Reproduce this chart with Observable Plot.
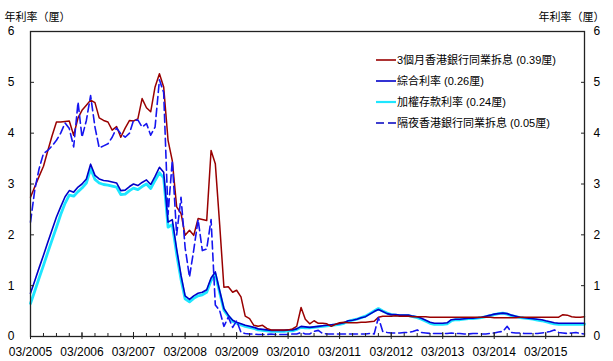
<!DOCTYPE html>
<html><head><meta charset="utf-8">
<script src="https://cdn.jsdelivr.net/npm/d3@7"></script>
<script src="https://cdn.jsdelivr.net/npm/@observablehq/plot@0.6"></script>
<style>
body{margin:0;background:#fff}
#chart{position:relative;width:613px;height:361px}
</style>
</head><body><div id="chart"></div>
<script>
// Monthly observations, 03/2005 .. 12/2015
const startMonth = new Date(Date.UTC(2005, 2, 1));
const endMonth = new Date(Date.UTC(2016, 0, 1));
const months = d3.utcMonth.range(startMonth, endMonth);

const seriesNames = [
  "3個月香港銀行同業拆息 (0.39厘)",
  "綜合利率 (0.26厘)",
  "加權存款利率 (0.24厘)",
  "隔夜香港銀行同業拆息 (0.05厘)"
];

const hibor3m = [
  2.74, 2.95, 3.15, 3.35, 3.65, 3.95, 4.22, 4.22, 4.23, 4.24,
  3.96, 4.30, 4.45, 4.55, 4.65, 4.60, 4.30, 4.25, 4.22, 4.06,
  4.13, 3.92, 4.10, 4.25, 4.24, 4.28, 4.68, 4.50, 4.42, 4.91,
  5.17, 4.91, 3.86, 3.46, 2.55, 2.42, 1.99, 2.09, 1.99, 2.32,
  2.30, 2.28, 3.66, 3.40, 2.20, 0.97, 0.98, 0.87, 0.91, 0.78,
  0.40, 0.35, 0.22, 0.20, 0.22, 0.16, 0.13, 0.13, 0.13, 0.13,
  0.13, 0.15, 0.20, 0.57, 0.34, 0.25, 0.31, 0.26, 0.26, 0.25,
  0.20, 0.24, 0.27, 0.28, 0.27, 0.27, 0.27, 0.28, 0.28, 0.29,
  0.30, 0.38, 0.40, 0.40, 0.40, 0.41, 0.40, 0.40, 0.40, 0.39,
  0.39, 0.39, 0.39, 0.38, 0.38, 0.38, 0.38, 0.38, 0.38, 0.38,
  0.38, 0.38, 0.38, 0.38, 0.38, 0.38, 0.38, 0.38, 0.37, 0.37,
  0.37, 0.37, 0.37, 0.37, 0.38, 0.38, 0.38, 0.38, 0.38, 0.38,
  0.38, 0.38, 0.38, 0.38, 0.43, 0.42, 0.39, 0.38, 0.38, 0.39
];

const composite = [
  0.85, 1.10, 1.35, 1.60, 1.85, 2.10, 2.35, 2.55, 2.75, 2.87,
  2.84, 2.94, 3.00, 3.10, 3.39, 3.17, 3.10, 3.07, 3.06, 3.04,
  3.02, 2.87, 2.88, 2.95, 3.00, 2.97, 3.03, 3.08, 2.99, 3.15,
  3.33, 3.23, 2.25, 2.30, 1.72, 1.20, 0.80, 0.73, 0.80, 0.85,
  0.87, 0.92, 1.15, 1.27, 0.90, 0.55, 0.42, 0.32, 0.28, 0.25,
  0.22, 0.20, 0.18, 0.15, 0.14, 0.13, 0.12, 0.12, 0.12, 0.12,
  0.13, 0.13, 0.15, 0.20, 0.19, 0.18, 0.19, 0.20, 0.21, 0.22,
  0.23, 0.24, 0.25, 0.27, 0.31, 0.32, 0.34, 0.37, 0.39, 0.44,
  0.49, 0.53, 0.49, 0.45, 0.43, 0.43, 0.42, 0.42, 0.42, 0.40,
  0.39, 0.36, 0.32, 0.28, 0.26, 0.26, 0.26, 0.27, 0.33, 0.34,
  0.34, 0.35, 0.36, 0.36, 0.37, 0.38, 0.40, 0.42, 0.44, 0.45,
  0.46, 0.45, 0.42, 0.40, 0.38, 0.37, 0.36, 0.35, 0.34, 0.33,
  0.31, 0.29, 0.27, 0.26, 0.26, 0.26, 0.26, 0.26, 0.26, 0.26
];

const deposit = [
  0.65, 0.90, 1.15, 1.40, 1.65, 1.90, 2.15, 2.40, 2.62, 2.78,
  2.76, 2.85, 2.92, 3.02, 3.30, 3.09, 3.02, 2.99, 2.98, 2.96,
  2.94, 2.79, 2.80, 2.87, 2.92, 2.89, 2.95, 3.00, 2.91, 3.07,
  3.22, 3.12, 2.15, 2.20, 1.62, 1.12, 0.74, 0.68, 0.75, 0.80,
  0.82, 0.87, 1.10, 1.22, 0.86, 0.52, 0.40, 0.30, 0.26, 0.23,
  0.20, 0.18, 0.16, 0.13, 0.12, 0.11, 0.10, 0.10, 0.10, 0.10,
  0.11, 0.11, 0.14, 0.18, 0.17, 0.17, 0.18, 0.19, 0.20, 0.21,
  0.22, 0.23, 0.24, 0.26, 0.30, 0.32, 0.34, 0.37, 0.40, 0.45,
  0.50, 0.55, 0.50, 0.46, 0.43, 0.42, 0.41, 0.41, 0.41, 0.39,
  0.37, 0.34, 0.30, 0.26, 0.24, 0.24, 0.24, 0.25, 0.31, 0.33,
  0.33, 0.34, 0.35, 0.35, 0.36, 0.37, 0.39, 0.41, 0.43, 0.45,
  0.46, 0.44, 0.41, 0.39, 0.37, 0.36, 0.35, 0.34, 0.32, 0.31,
  0.29, 0.27, 0.25, 0.24, 0.24, 0.24, 0.24, 0.24, 0.24, 0.24
];

const overnight = [
  2.25, 2.90, 3.30, 3.60, 3.66, 3.75, 3.86, 4.00, 4.20, 4.09,
  3.73, 4.61, 3.92, 4.25, 4.74, 4.12, 3.71, 3.75, 3.79, 3.92,
  4.10, 3.99, 3.92, 4.00, 4.25, 4.26, 4.12, 4.19, 3.96, 4.12,
  5.05, 4.80, 2.40, 3.46, 2.00, 2.74, 1.75, 1.17, 1.70, 2.30,
  1.69, 1.72, 2.30, 0.62, 0.51, 0.20, 0.38, 0.18, 0.31, 0.08,
  0.06, 0.05, 0.05, 0.04, 0.04, 0.04, 0.05, 0.04, 0.04, 0.04,
  0.04, 0.05, 0.05, 0.08, 0.05, 0.05, 0.10, 0.12, 0.06, 0.05,
  0.05, 0.05, 0.05, 0.05, 0.05, 0.05, 0.05, 0.05, 0.05, 0.06,
  0.05, 0.37, 0.10, 0.08, 0.07, 0.07, 0.07, 0.08, 0.08, 0.10,
  0.13, 0.08, 0.07, 0.06, 0.06, 0.06, 0.06, 0.06, 0.07, 0.06,
  0.06, 0.05, 0.05, 0.06, 0.06, 0.05, 0.05, 0.06, 0.07, 0.09,
  0.10, 0.20, 0.08, 0.07, 0.07, 0.06, 0.06, 0.06, 0.06, 0.07,
  0.08, 0.10, 0.13, 0.08, 0.07, 0.06, 0.07, 0.08, 0.06, 0.05
];

const yTicks = [0, 1, 2, 3, 4, 5, 6];
const yearTicks = d3.range(2005, 2016).map(y => new Date(Date.UTC(y, 2, 1)));
const quarterTicks = months.filter((d, i) => i % 3 === 0);
const axisTitle = "年利率（厘）";

const colors = ["#990000", "#0000C8", "#1EE6FF", "#1515F0"];
const widths = [1.5, 1.6, 2.8, 1.6];
const dashes = [null, null, null, "8,4"];

const toRows = arr => arr.map((v, i) => ({date: months[i], value: v}));

const fmt = d3.utcFormat("%m/%Y");
const font = "'Liberation Sans', Arial, 'Noto Sans CJK TC', sans-serif";

const chart = Plot.plot({
  width: 613,
  height: 361,
  marginLeft: 30,
  marginRight: 29,
  marginTop: 31,
  marginBottom: 25,
  style: {fontFamily: font, fontSize: "12px", color: "#000", background: "#fff"},
  x: {type: "utc", domain: [months[0], months[months.length - 1]]},
  y: {domain: [0, 6]},
  marks: [
    Plot.line(toRows(deposit), {x: "date", y: "value", stroke: colors[2], strokeWidth: widths[2]}),
    Plot.line(toRows(composite), {x: "date", y: "value", stroke: colors[1], strokeWidth: widths[1]}),
    Plot.line(toRows(hibor3m), {x: "date", y: "value", stroke: colors[0], strokeWidth: widths[0]}),
    Plot.line(toRows(overnight), {x: "date", y: "value", stroke: colors[3], strokeWidth: widths[3], strokeDasharray: dashes[3]}),
    Plot.frame({stroke: "#222", strokeWidth: 1.3}),
    Plot.axisY({anchor: "left", ticks: yTicks, tickSize: 0, tickPadding: 16, tickFormat: d => d, label: null}),
    Plot.axisY({anchor: "left", ticks: yTicks, tickSize: 4, dx: 4, tickFormat: () => "", label: null, stroke: "#222"}),
    Plot.axisY({anchor: "right", ticks: yTicks, tickSize: 0, tickPadding: 9, tickFormat: d => d, label: null}),
    Plot.axisY({anchor: "right", ticks: yTicks, tickSize: 4, dx: -4, tickFormat: () => "", label: null, stroke: "#222"}),
    Plot.axisX({ticks: yearTicks, tickSize: 0, tickPadding: 11, tickFormat: fmt, label: null}),
    Plot.axisX({ticks: yearTicks, tickSize: 7, dy: -4, tickFormat: () => "", label: null, stroke: "#222"}),
    Plot.axisX({ticks: quarterTicks, tickSize: 3, dy: -3, tickFormat: () => "", label: null, stroke: "#222"}),
    Plot.text([axisTitle], {frameAnchor: "top-left", textAnchor: "start", dx: -26, dy: -18, fontSize: 11}),
    Plot.text([axisTitle], {frameAnchor: "top-right", textAnchor: "end", dx: 20, dy: -18, fontSize: 11})
  ]
});

// Legend inside the plot area
const svg = d3.select(chart);
const legend = svg.append("g")
  .attr("font-family", font).attr("font-size", 11)
  .attr("text-anchor", "start").attr("fill", "#000");
const legendColors = [colors[0], colors[1], colors[2], "#0000C0"];
seriesNames.forEach((name, k) => {
  const y = 60 + k * 21;
  legend.append("path")
    .attr("d", `M376,${y}H396`)
    .attr("fill", "none")
    .style("stroke", legendColors[k])
    .style("stroke-width", k === 2 ? 2.2 : 1.6)
    .style("stroke-dasharray", k === 3 ? "8,4" : "none");
  legend.append("text")
    .attr("x", 397).attr("y", y).attr("dy", "0.35em")
    .attr("text-anchor", "start")
    .style("fill", "#000")
    .text(name);
});

document.getElementById("chart").append(chart);
</script>
</body></html>
